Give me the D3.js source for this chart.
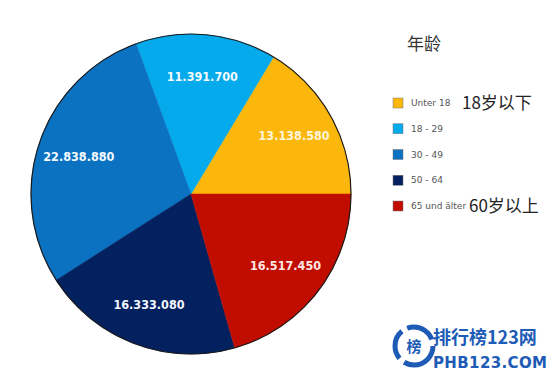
<!DOCTYPE html>
<html>
<head>
<meta charset="utf-8">
<script src="https://cdn.jsdelivr.net/npm/d3@7"></script>
<style>
  html, body { margin: 0; padding: 0; background: #fff; }
  svg { display: block; }
</style>
</head>
<body>
<div id="chart"></div>
<script>
const groups  = ['Unter 18', '18 - 29', '30 - 49', '50 - 64', '65 und älter'];
const people  = [13138580, 11391700, 22838880, 16333080, 16517450];
const labels  = ['13.138.580', '11.391.700', '22.838.880', '16.333.080', '16.517.450'];
const notesCn = ['18岁以下', '', '', '', '60岁以上'];
const colors  = ['#fbb70b', '#04aaeb', '#0b71c1', '#03215f', '#c10c00'];
const labelColors = ['#fff6dc', '#f4fbff', '#f4fbff', '#f4f6ff', '#ffe8e4'];

const W = 560, H = 381;
const cx = 191, cy = 194, R = 160;

const svg = d3.select('#chart').append('svg')
  .attr('width', W).attr('height', H);

// slices run counter-clockwise from 3 o'clock
const pie = d3.pie().sort(null)
  .startAngle(Math.PI / 2)
  .endAngle(Math.PI / 2 - 2 * Math.PI);
const arcs = pie(people);

const arc = d3.arc().innerRadius(0).outerRadius(R);
const labelArc = d3.arc().innerRadius(R * 0.74).outerRadius(R * 0.74);

const g = svg.append('g').attr('transform', `translate(${cx},${cy})`);

g.selectAll('path.slice').data(arcs).join('path')
  .attr('class', 'slice')
  .attr('d', arc)
  .attr('fill', (d, i) => colors[i])
  .attr('stroke', (d, i) => colors[i])
  .attr('stroke-width', 0.5);

g.append('circle').attr('r', R)
  .attr('fill', 'none').attr('stroke', '#1a1a1a').attr('stroke-width', 1.2);

g.selectAll('text.val').data(arcs).join('text')
  .attr('class', 'val')
  .attr('transform', d => `translate(${labelArc.centroid(d)})`)
  .attr('text-anchor', 'middle')
  .attr('dy', '0.36em')
  .attr('fill', (d, i) => labelColors[i])
  .style('font-family', '"DejaVu Sans Condensed", "DejaVu Sans", sans-serif')
  .style('font-weight', 'bold')
  .style('font-size', '12.5px')
  .text((d, i) => labels[i]);

// legend
svg.append('text')
  .attr('x', 407).attr('y', 50)
  .attr('fill', '#333')
  .style('font-family', '"Noto Sans CJK SC", sans-serif')
  .style('font-size', '17px')
  .text('年龄');

const legendY = d3.scalePoint().domain(groups).range([103, 206]);

const item = svg.selectAll('g.leg').data(groups).join('g')
  .attr('class', 'leg')
  .attr('transform', d => `translate(393,${legendY(d)})`);

item.append('rect')
  .attr('x', 0).attr('y', -5).attr('width', 10).attr('height', 10)
  .attr('fill', (d, i) => colors[i])
  .attr('stroke', '#777').attr('stroke-width', 0.5);

item.append('text')
  .attr('x', 18).attr('dy', '0.35em')
  .attr('fill', '#555')
  .style('font-family', '"DejaVu Sans", sans-serif')
  .style('font-size', '9px')
  .text(d => d);

item.filter((d, i) => notesCn[i]).append('text')
  .attr('x', (d, i) => i === 0 ? 69 : 76)
  .attr('dy', '0.38em')
  .attr('fill', '#222')
  .style('font-family', '"Noto Sans CJK SC", sans-serif')
  .style('font-size', '17px')
  .text(d => notesCn[groups.indexOf(d)]);

// watermark
const wm = svg.append('g').attr('fill', '#1d5bb6');
wm.append('circle').attr('cx', 414).attr('cy', 346).attr('r', 19)
  .attr('fill', 'none').attr('stroke', '#1d5bb6').attr('stroke-width', 5)
  .attr('stroke-dasharray', '40 6 30 6 30 8');
wm.append('text').attr('x', 414).attr('y', 352).attr('text-anchor', 'middle')
  .style('font-family', '"Noto Sans CJK SC", sans-serif')
  .style('font-size', '15px').style('font-weight', 'bold')
  .text('榜');
wm.append('text').attr('x', 433).attr('y', 344)
  .style('font-family', '"Noto Sans CJK SC", sans-serif')
  .style('font-size', '18px').style('font-weight', 'bold')
  .text('排行榜123网');
wm.append('text').attr('x', 433).attr('y', 368)
  .style('font-family', '"DejaVu Sans", sans-serif')
  .style('font-size', '15px').style('font-weight', 'bold')
  .attr('textLength', 114)
  .text('PHB123.COM');
</script>
</body>
</html>
